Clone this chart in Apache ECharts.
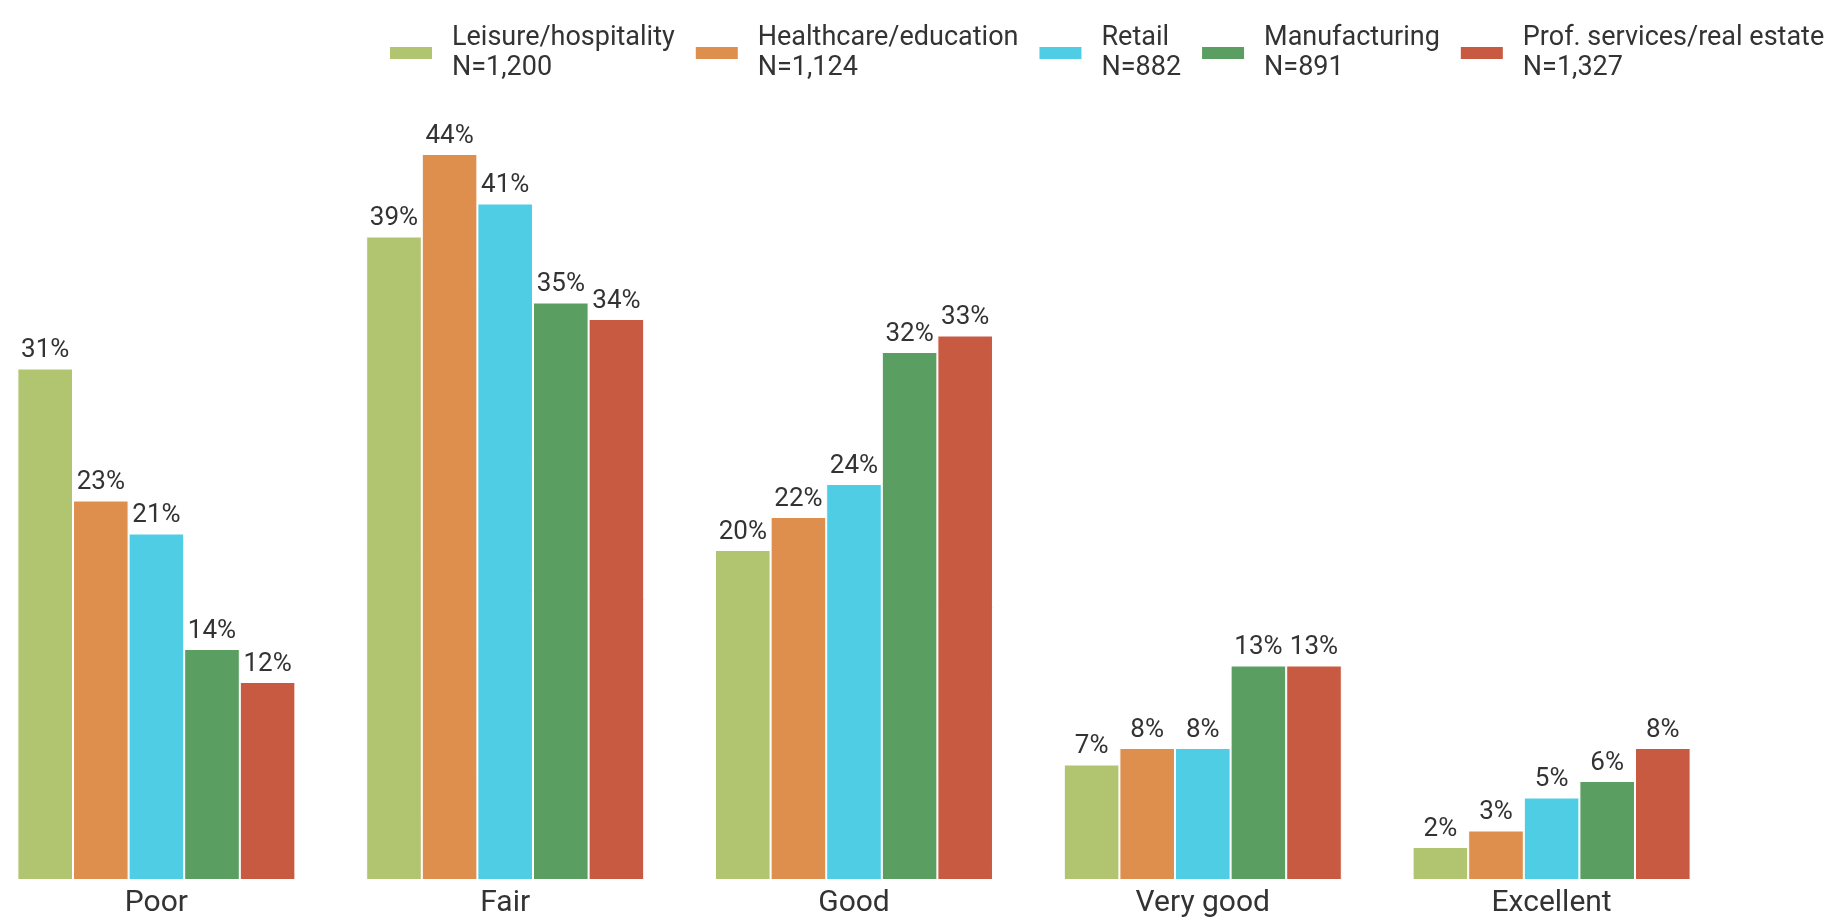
<!DOCTYPE html>
<html>
<head>
<meta charset="utf-8">
<title>Ratings by industry</title>
<script src="https://cdn.jsdelivr.net/npm/echarts@6/dist/echarts.min.js"></script>
<style>
  html, body { margin: 0; padding: 0; background: #fff; overflow: hidden; }
  /* first bar group starts right at the page edge, so the chart is shifted a bit left */
  #chart { width: 1863px; height: 922px; margin-left: -18px; }
</style>
</head>
<body>
<div id="chart"></div>
<script>
  // rating categories on the x axis
  const categories = ['Poor', 'Fair', 'Good', 'Very good', 'Excellent']

  // industries (legend) and sample sizes
  const industries = ['Leisure/hospitality', 'Healthcare/education', 'Retail', 'Manufacturing', 'Prof. services/real estate']
  const sampleSizes = ['1,200', '1,124', '882', '891', '1,327']

  // percent per rating, one array per industry
  const leisure = [31, 39, 20, 7, 2]
  const healthcare = [23, 44, 22, 8, 3]
  const retail = [21, 41, 24, 8, 5]
  const manufacturing = [14, 35, 32, 13, 6]
  const profServices = [12, 34, 33, 13, 8]

  const colors = ['#b1c470', '#de8f4d', '#4fcde5', '#5b9e62', '#c95a42']

  const chart = echarts.init(document.getElementById('chart'))

  function barSeries(name, data, color) {
    return {
      name,
      type: 'bar',
      data,
      barGap: 0,
      barCategoryGap: '20.3%',
      itemStyle: {
        color,
        borderColor: '#ffffff',
        borderWidth: 1
      },
      label: {
        show: true,
        position: 'top',
        distance: 5,
        formatter: '{c}%',
        fontFamily: 'Roboto',
        fontSize: 26,
        color: '#333333'
      }
    }
  }

  chart.setOption({
    animation: false,
    color: colors,
    textStyle: { fontFamily: 'Roboto' },
    legend: {
      left: 401,
      top: 18,
      itemWidth: 44,
      itemHeight: 14,
      itemGap: 19,
      icon: 'rect',
      data: industries,
      formatter: name => name + '\nN=' + sampleSizes[industries.indexOf(name)],
      textStyle: {
        fontFamily: 'Roboto',
        fontSize: 27,
        lineHeight: 30,
        color: '#333333',
        padding: [0, 0, 0, 14]
      }
    },
    grid: {
      left: 0,
      width: 1744,
      top: 55,
      height: 825
    },
    xAxis: {
      type: 'category',
      data: categories,
      axisLine: { show: false },
      axisTick: { show: false },
      axisLabel: {
        margin: 8,
        fontFamily: 'Roboto',
        fontSize: 30,
        color: '#333333'
      }
    },
    yAxis: {
      type: 'value',
      min: 0,
      max: 50,
      show: false,
      splitLine: { show: false }
    },
    series: [
      barSeries(industries[0], leisure, colors[0]),
      barSeries(industries[1], healthcare, colors[1]),
      barSeries(industries[2], retail, colors[2]),
      barSeries(industries[3], manufacturing, colors[3]),
      barSeries(industries[4], profServices, colors[4])
    ]
  })
</script>
</body>
</html>
